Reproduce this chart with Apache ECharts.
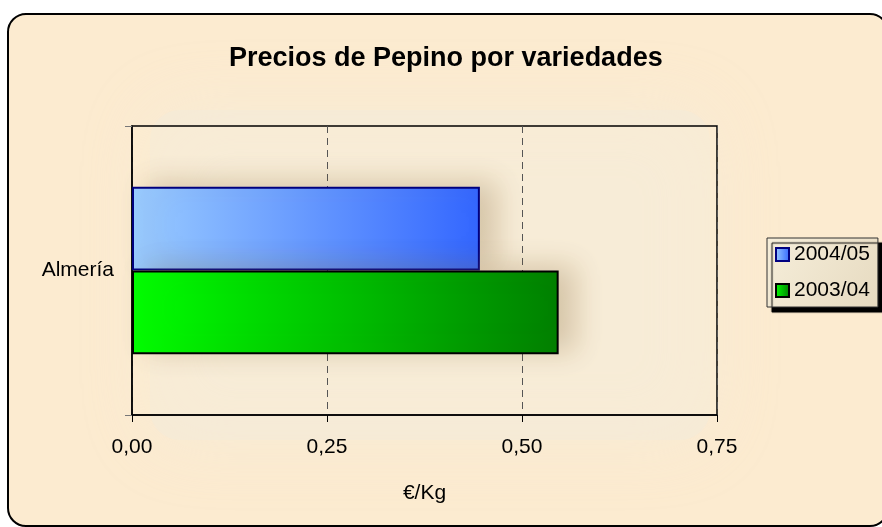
<!DOCTYPE html>
<html>
<head>
<meta charset="utf-8">
<script src="https://cdn.jsdelivr.net/npm/echarts@6/dist/echarts.min.js"></script>
<style>
  html, body { margin: 0; padding: 0; background: #ffffff; }
  #chart { width: 882px; height: 527px; }
</style>
</head>
<body>
<div id="chart"></div>
<script>
// Chart data
const categories = ['Almería'];
const seriesNames = ['2004/05', '2003/04'];
const values2004 = [0.446];
const values2003 = [0.547];
const valueTicks = [0, 0.25, 0.5, 0.75];

const FONT = 'Liberation Sans, Arial, sans-serif';

const chart = echarts.init(document.getElementById('chart'), null, { renderer: 'canvas' });

const blueFill = new echarts.graphic.LinearGradient(0, 0, 1, 0, [
  { offset: 0, color: '#9ACCFF' },
  { offset: 1, color: '#3366FF' }
]);
const greenFill = new echarts.graphic.LinearGradient(0, 0, 1, 0, [
  { offset: 0, color: '#00FF00' },
  { offset: 1, color: '#008000' }
]);

const barShadow = {
  shadowColor: 'rgba(130,100,50,0.28)',
  shadowBlur: 28,
  shadowOffsetX: 16,
  shadowOffsetY: -4
};

const option = {
  backgroundColor: '#ffffff',
  animation: false,
  graphic: [
    {
      // rounded chart frame
      type: 'rect',
      z: -20,
      shape: { x: 8, y: 14, width: 880, height: 512, r: 18 },
      style: { fill: '#FCEBD0', stroke: '#000000', lineWidth: 2 }
    },
    {
      // soft glow behind the plot
      type: 'rect',
      z: -19,
      shape: { x: 150, y: 110, width: 560, height: 330, r: 30 },
      style: {
        fill: 'rgba(242,236,220,0.45)',
        shadowBlur: 70,
        shadowColor: 'rgba(242,236,220,0.9)'
      }
    }
  ],
  title: {
    text: 'Precios de Pepino por variedades',
    left: 224,
    top: 40,
    textStyle: { fontFamily: FONT, fontSize: 27, fontWeight: 'bold', color: '#000000' }
  },
  legend: {
    orient: 'vertical',
    left: 767,
    top: 238,
    data: seriesNames,
    icon: 'rect',
    itemWidth: 13,
    itemHeight: 13,
    itemGap: 15,
    padding: [6, 8, 6, 8],
    borderColor: '#333333',
    borderWidth: 1,
    backgroundColor: new echarts.graphic.LinearGradient(0, 0, 1, 1, [
      { offset: 0, color: '#F6EEDA' },
      { offset: 1, color: '#E6DAC0' }
    ]),
    shadowColor: '#000000',
    shadowBlur: 1,
    shadowOffsetX: 5,
    shadowOffsetY: 5,
    textStyle: { fontFamily: FONT, fontSize: 21, color: '#000000' }
  },
  grid: {
    left: 132,
    top: 126,
    right: 165,
    bottom: 112,
    show: true,
    backgroundColor: 'rgba(255,238,212,0.25)',
    borderColor: '#000000',
    borderWidth: 1.5,
    containLabel: false
  },
  xAxis: {
    type: 'value',
    min: valueTicks[0],
    max: valueTicks[valueTicks.length - 1],
    interval: 0.25,
    name: '€/Kg',
    nameLocation: 'middle',
    nameGap: 68,
    nameTextStyle: { fontFamily: FONT, fontSize: 21, color: '#000000' },
    axisLine: { show: true, lineStyle: { color: '#000000', width: 1.5 } },
    axisTick: { show: true, length: 7, lineStyle: { color: '#000000' } },
    axisLabel: {
      fontFamily: FONT,
      fontSize: 21,
      color: '#000000',
      margin: 22,
      formatter: v => v.toFixed(2).replace('.', ',')
    },
    splitLine: {
      show: true,
      lineStyle: { color: '#555555', type: [7, 5], width: 1 }
    }
  },
  yAxis: {
    type: 'category',
    data: categories,
    axisLine: { show: true, lineStyle: { color: '#000000', width: 1.5 } },
    axisTick: { show: true, length: 7, lineStyle: { color: '#777777' } },
    axisLabel: { fontFamily: FONT, fontSize: 21, color: '#000000', margin: 18 },
    splitLine: { show: false }
  },
  series: [
    {
      name: '2004/05',
      type: 'bar',
      data: values2004,
      barGap: '0%',
      barCategoryGap: '42%',
      itemStyle: Object.assign({ color: blueFill, borderColor: '#000080', borderWidth: 2 }, barShadow)
    },
    {
      name: '2003/04',
      type: 'bar',
      data: values2003,
      barGap: '0%',
      barCategoryGap: '42%',
      itemStyle: Object.assign({ color: greenFill, borderColor: '#000000', borderWidth: 2 }, barShadow)
    }
  ]
};

chart.setOption(option);
</script>
</body>
</html>
